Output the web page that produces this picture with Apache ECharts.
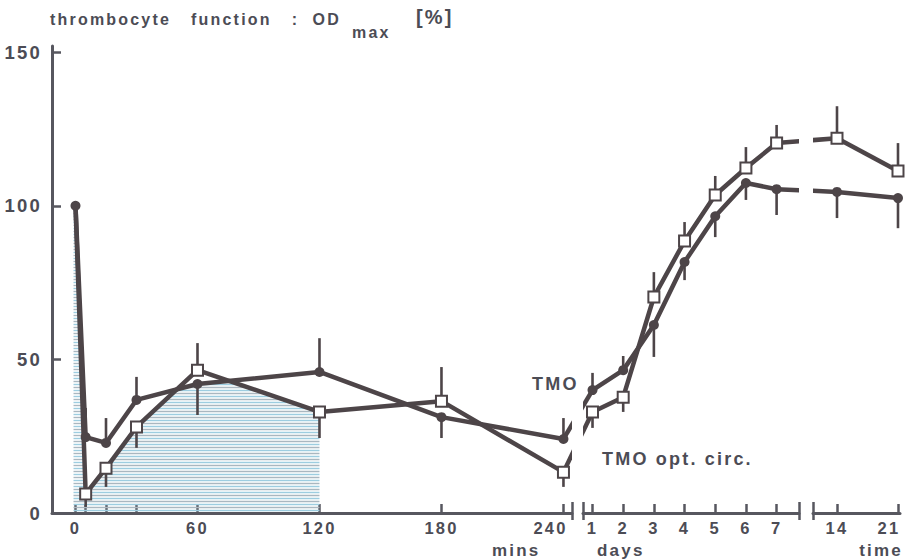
<!DOCTYPE html>
<html><head><meta charset="utf-8">
<script src="https://cdn.jsdelivr.net/npm/echarts@6/dist/echarts.min.js"></script>
<style>
html,body{margin:0;padding:0;background:#fff;}
#main{width:910px;height:560px;}
#main text{letter-spacing:2.2px;white-space:pre;}
</style></head><body><div id="main"></div>
<script>
// ---- data ----
var minutes   = [0, 5, 15, 30, 60, 120, 180, 240];
var tmoMin    = [100, 24.7, 22.8, 36.8, 42.0, 45.9, 31.2, 24.1];
var tmoMinErr = [null, 34.2, 30.9, 44.3, 31.9, 56.9, 24.4, 30.9];
var optMin    = [100, 6.2, 14.6, 28.0, 46.5, 32.9, 36.4, 13.3];
var optMinErr = [null, 2.0, 8.5, 21.2, 55.3, 24.4, 47.5, 8.5];

var days      = [1, 2, 3, 4, 5, 6, 7];
var tmoDay    = [40.0, 46.5, 61.2, 81.7, 96.6, 107.4, 105.4];
var tmoDayErr = [45.6, 51.1, 50.8, 75.8, 89.8, 101.9, 97.0];
var optDay    = [32.9, 37.7, 70.3, 88.5, 103.5, 112.3, 120.4];
var optDayErr = [27.7, 32.9, 78.4, 94.7, 109.7, 119.1, 126.3];

var laterDays  = [14, 21];
var tmoLate    = [104.5, 102.5];
var tmoLateErr = [96.0, 92.7];
var optLate    = [122.0, 111.3];
var optLateErr = [132.4, 120.4];

var minuteTicks  = [0, 5, 15, 30, 60, 120, 180, 240];
var minuteLabels = [0, 60, 120, 180, 240];
var dayTicks     = [1, 2, 3, 4, 5, 6, 7];
var lateTicks    = [14, 21];
var yTicks       = [0, 50, 100, 150];
var shadeEnd     = 120;

// ---- styling ----
var INK = '#4d4548', AX = '#57575f', TXT = '#4c4c55';
var FONT = '"Liberation Sans", Arial, Helvetica, sans-serif';
var chart = echarts.init(document.getElementById('main'), null, {renderer: 'svg'});

var ranges = [[-11.56, 244.2], [0.69, 7.73], [11.246, 21.23]];

function mainX(gi, ticks, labels, shiftVal, shiftPad) {
  return {
    type: 'value', gridIndex: gi, min: ranges[gi][0], max: ranges[gi][1], position: 'bottom',
    axisLine: {show: true, onZero: false, lineStyle: {color: AX, width: 3}},
    axisTick: {show: true, inside: true, length: 9, customValues: ticks, lineStyle: {color: AX, width: 2.5}},
    axisLabel: {
      show: true, customValues: labels, margin: 6, color: TXT, fontFamily: FONT, fontWeight: 'bold', fontSize: 16.5,
      formatter: function (v) { return v === shiftVal ? '{s|' + v + '}' : String(v); },
      rich: {s: {padding: [0, shiftPad, 0, 0], color: TXT, fontFamily: FONT, fontWeight: 'bold', fontSize: 16.5}}
    },
    splitLine: {show: false}
  };
}
function breakX(gi, vals) {
  return {
    type: 'value', gridIndex: gi, min: ranges[gi][0], max: ranges[gi][1], position: 'bottom', offset: 7,
    axisLine: {show: false, onZero: false},
    axisTick: {show: true, inside: true, length: 18, customValues: vals, lineStyle: {color: AX, width: 2.5}},
    axisLabel: {show: false}, splitLine: {show: false}
  };
}
function hiddenY(gi) {
  return {type: 'value', gridIndex: gi, min: 0, max: 152, show: false, splitLine: {show: false}};
}

function lineSeries(gi, xs, ys, isOpt, hideFirst) {
  var data = xs.map(function (x, i) {
    var it = {value: [x, ys[i]]};
    if (hideFirst && i === 0) it.symbol = 'none';
    return it;
  });
  return {
    type: 'line', xAxisIndex: gi, yAxisIndex: gi, data: data, z: 5,
    symbol: isOpt ? 'rect' : 'circle', symbolSize: isOpt ? 11 : 10,
    itemStyle: isOpt ? {color: '#ffffff', borderColor: INK, borderWidth: 2} : {color: INK, borderColor: INK, borderWidth: 0},
    lineStyle: {color: INK, width: 4.5},
    emphasis: {disabled: true}
  };
}

function errItems(xs, ys, es) {
  var out = [];
  xs.forEach(function (x, i) { if (es[i] != null) out.push([x, ys[i], es[i]]); });
  return out;
}
function errSeries(gi, items) {
  return {
    type: 'custom', xAxisIndex: gi, yAxisIndex: gi, z: 3, data: items,
    encode: {x: 0, y: [1, 2]},
    renderItem: function (params, api) {
      var a = api.coord([api.value(0), api.value(1)]);
      var b = api.coord([api.value(0), api.value(2)]);
      return {type: 'line', shape: {x1: a[0], y1: a[1], x2: b[0], y2: b[1]}, style: {stroke: INK, lineWidth: 2.6}};
    }
  };
}

// connector between segments, clipped to each grid
function connSeries(gi, items) {
  return {
    type: 'custom', xAxisIndex: gi, yAxisIndex: gi, z: 4, clip: true, data: items,
    encode: {x: 0, y: 1},
    renderItem: function (params, api) {
      var a = api.coord([api.value(0), api.value(1)]);
      var oi = api.value(2);
      var b = chart.convertToPixel({xAxisIndex: oi, yAxisIndex: oi}, [api.value(3), api.value(4)]);
      return {type: 'line', shape: {x1: a[0], y1: a[1], x2: b[0], y2: b[1]}, style: {stroke: INK, lineWidth: 4.5}};
    }
  };
}
var lastM = minutes.length - 1, lastD = days.length - 1;
var connA = [
  [minutes[lastM], tmoMin[lastM], 1, days[0], tmoDay[0]],
  [minutes[lastM], optMin[lastM], 1, days[0], optDay[0]]
];
var connB = [
  [days[0], tmoDay[0], 0, minutes[lastM], tmoMin[lastM]],
  [days[0], optDay[0], 0, minutes[lastM], optMin[lastM]],
  [days[lastD], tmoDay[lastD], 2, laterDays[0], tmoLate[0]],
  [days[lastD], optDay[lastD], 2, laterDays[0], optLate[0]]
];
var connC = [
  [laterDays[0], tmoLate[0], 1, days[lastD], tmoDay[lastD]],
  [laterDays[0], optLate[0], 1, days[lastD], optDay[lastD]]
];

// hatched area under the lower of the two curves, 0..shadeEnd minutes
var shade = {
  type: 'custom', xAxisIndex: 0, yAxisIndex: 0, z: 1, data: [[0, 0]], encode: {x: 0, y: 1}, silent: true,
  renderItem: function (params, api) {
    var pts = [];
    for (var i = 0; i < minutes.length && minutes[i] <= shadeEnd; i++) {
      var t = minutes[i], a = tmoMin[i], b = optMin[i];
      pts.push([t, Math.min(a, b)]);
      if (i + 1 < minutes.length && minutes[i + 1] <= shadeEnd) {
        var d0 = a - b, d1 = tmoMin[i + 1] - optMin[i + 1];
        if (d0 * d1 < 0) {
          var f = d0 / (d0 - d1);
          pts.push([t + f * (minutes[i + 1] - t), a + f * (tmoMin[i + 1] - a)]);
        }
      }
    }
    pts.push([pts[pts.length - 1][0], 0]);
    pts.push([pts[0][0], 0]);
    var px = pts.map(function (p) { return api.coord(p); });
    var ys = px.map(function (p) { return p[1]; });
    var ymin = Math.min.apply(null, ys), ymax = Math.max.apply(null, ys);
    var children = [], k = 0;
    for (var y = ymax - 2.5; y > ymin; y -= 3, k++) {
      var xs = [];
      for (var j = 0; j < px.length; j++) {
        var p1 = px[j], p2 = px[(j + 1) % px.length];
        if ((p1[1] <= y && p2[1] > y) || (p2[1] <= y && p1[1] > y)) {
          xs.push(p1[0] + (y - p1[1]) * (p2[0] - p1[0]) / (p2[1] - p1[1]));
        }
      }
      xs.sort(function (u, v) { return u - v; });
      for (var m = 0; m + 1 < xs.length; m += 2) {
        children.push({type: 'line', shape: {x1: xs[m] - 2, y1: y, x2: xs[m + 1], y2: y},
          style: {stroke: k % 2 ? '#a9b7c0' : '#9dcde0', lineWidth: 1.4}});
      }
    }
    return {type: 'group', children: children};
  }
};

function txt(x, y, s, size, align) {
  return {type: 'text', x: x, y: y, silent: true,
    style: {text: s, fill: TXT, font: 'bold ' + size + 'px ' + FONT, align: align || 'left', verticalAlign: 'middle'}};
}

var option = {
  animation: false,
  backgroundColor: '#ffffff',
  grid: [
    {left: 52, top: 46, width: 520, height: 467},
    {left: 583, top: 46, width: 216, height: 467},
    {left: 813, top: 46, width: 87, height: 467}
  ],
  xAxis: [
    mainX(0, minuteTicks, minuteLabels, 240, 26),
    mainX(1, dayTicks, dayTicks, null, 0),
    mainX(2, lateTicks, lateTicks, 21, 18),
    breakX(0, [ranges[0][1]]),
    breakX(1, [ranges[1][0], ranges[1][1]]),
    breakX(2, [ranges[2][0]])
  ],
  yAxis: [
    {
      type: 'value', gridIndex: 0, min: 0, max: 152,
      axisLine: {show: true, onZero: false, lineStyle: {color: AX, width: 3}},
      axisTick: {show: true, inside: true, length: 9, customValues: yTicks, lineStyle: {color: AX, width: 2.5}},
      axisLabel: {show: true, customValues: yTicks, margin: 10, color: TXT, fontFamily: FONT, fontWeight: 'bold', fontSize: 18.5},
      splitLine: {show: false}
    },
    hiddenY(1), hiddenY(2)
  ],
  graphic: [
    txt(50, 19.5, 'thrombocyte   function   :  OD', 16),
    txt(352, 32.5, 'max', 16),
    txt(416, 17, '[%]', 20),
    txt(532, 384, 'TMO', 18),
    txt(602, 459, 'TMO opt. circ.', 18),
    txt(492, 550, 'mins', 17),
    txt(597, 550, 'days', 17),
    txt(903, 550, 'time', 17, 'right')
  ],
  series: [
    shade,
    errSeries(0, errItems(minutes, tmoMin, tmoMinErr).concat(errItems(minutes, optMin, optMinErr))),
    errSeries(1, errItems(days, tmoDay, tmoDayErr).concat(errItems(days, optDay, optDayErr))),
    errSeries(2, errItems(laterDays, tmoLate, tmoLateErr).concat(errItems(laterDays, optLate, optLateErr))),
    connSeries(0, connA),
    connSeries(1, connB),
    connSeries(2, connC),
    lineSeries(0, minutes, tmoMin, false, false),
    lineSeries(0, minutes, optMin, true, true),
    lineSeries(1, days, tmoDay, false, false),
    lineSeries(1, days, optDay, true, false),
    lineSeries(2, laterDays, tmoLate, false, false),
    lineSeries(2, laterDays, optLate, true, false)
  ]
};
chart.setOption(option);
</script></body></html>
